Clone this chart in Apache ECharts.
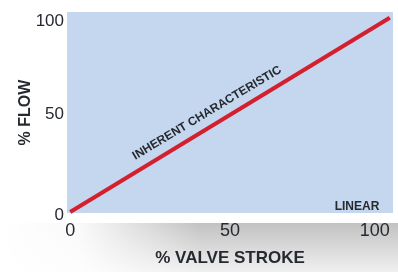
<!DOCTYPE html>
<html>
<head>
<meta charset="utf-8">
<script src="https://cdn.jsdelivr.net/npm/echarts@6/dist/echarts.min.js"></script>
<style>
  html, body { margin: 0; padding: 0; background: #fff; }
  #chart { width: 398px; height: 272px; }
</style>
</head>
<body>
<div id="chart"></div>
<script>
// valve stroke (%) vs flow (%), linear inherent characteristic
const strokePct = [0, 100];
const flowPct = [0, 100];
const xTicks = [0, 50, 100];
const yTicks = [0, 50, 100];

const chart = echarts.init(document.getElementById("chart"));
const font = "Liberation Sans";
const ink = "#262a30";

const option = {
  animation: false,
  grid: {
    left: 67,
    right: 5,
    top: 12,
    bottom: 49,
    show: true,
    backgroundColor: "#c5d7ef",
    borderWidth: 0,
  },
  graphic: [
    {
      type: "rect",
      z: -10,
      shape: { x: 0, y: 223, width: 398, height: 49 },
      style: {
        fill: new echarts.graphic.LinearGradient(0, 0, 0, 1, [
          { offset: 0, color: "#c2c2c2" },
          { offset: 1, color: "#f0f0f0" },
        ]),
      },
    },
    {
      type: "rect",
      z: -9,
      shape: { x: 0, y: 223, width: 200, height: 49 },
      style: {
        fill: new echarts.graphic.LinearGradient(0, 0, 1, 0, [
          { offset: 0, color: "rgba(255,255,255,1)" },
          { offset: 0.4, color: "rgba(255,255,255,0.9)" },
          { offset: 1, color: "rgba(255,255,255,0)" },
        ]),
      },
    },
    {
      type: "text",
      x: 357,
      y: 207,
      style: {
        text: "LINEAR",
        fill: ink,
        font: "bold 12px " + font,
        align: "center",
        verticalAlign: "middle",
      },
    },
    {
      type: "text",
      x: 207,
      y: 113,
      rotation: (31 * Math.PI) / 180,
      style: {
        text: "INHERENT CHARACTERISTIC",
        fill: ink,
        font: "bold 12px " + font,
        align: "center",
        verticalAlign: "middle",
      },
    },
  ],
  xAxis: {
    type: "value",
    min: -1,
    max: 101,
    name: "% VALVE STROKE",
    nameLocation: "middle",
    nameGap: 37,
    nameMoveOverlap: false,
    nameTextStyle: { color: ink, fontFamily: font, fontSize: 17, fontWeight: "bold", verticalAlign: "top" },
    axisLine: { show: false },
    axisTick: { show: false },
    splitLine: { show: false },
    axisLabel: {
      customValues: xTicks,
      margin: 9,
      formatter: (v) => (v === 100 ? "{r|" + v + "}" : "{n|" + v + "}"),
      rich: {
        n: { color: ink, fontFamily: font, fontSize: 18 },
        r: { color: ink, fontFamily: font, fontSize: 18, padding: [0, 30, 0, 0] },
      },
    },
  },
  yAxis: {
    type: "value",
    min: -0.5,
    max: 103,
    name: "% FLOW",
    nameLocation: "middle",
    nameRotate: 90,
    nameGap: 33,
    nameMoveOverlap: false,
    nameTextStyle: { color: ink, fontFamily: font, fontSize: 16, fontWeight: "bold", verticalAlign: "bottom" },
    axisLine: { show: false },
    axisTick: { show: false },
    splitLine: { show: false },
    axisLabel: {
      customValues: yTicks,
      margin: 3,
      formatter: (v) => (v === 100 ? "{t|" + v + "}" : v === 50 ? "{f|" + v + "}" : "{z|" + v + "}"),
      rich: {
        t: { color: ink, fontFamily: font, fontSize: 17, padding: [6, 0, 0, 0] },
        f: { color: ink, fontFamily: font, fontSize: 17, padding: [0, 0, 2, 0] },
        z: { color: ink, fontFamily: font, fontSize: 17, padding: [7, 0, 0, 0] },
      },
    },
  },
  series: [
    {
      type: "line",
      data: strokePct.map((x, i) => [x, flowPct[i]]),
      symbol: "none",
      lineStyle: { color: "#d41f2e", width: 4 },
      silent: true,
    },
  ],
};

chart.setOption(option);
</script>
</body>
</html>
